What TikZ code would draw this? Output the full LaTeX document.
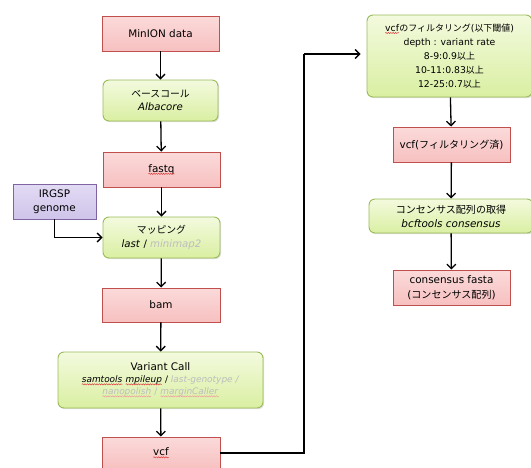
\documentclass[tikz,border=0pt]{standalone}
\usepackage{fontspec}
\setmainfont{DejaVu Sans}[Scale=1.12]
\newfontfamily\jpfont{Noto Sans CJK JP}[Scale=1.08]
\newcommand{\jp}[1]{{\jpfont #1}}
\usetikzlibrary{arrows.meta,shadows,decorations.pathmorphing}
\definecolor{redfill}{HTML}{F7C0C0}
\definecolor{redfilltop}{HTML}{FBDADA}
\definecolor{reddraw}{HTML}{C0504D}
\definecolor{grnfill}{HTML}{DAEFA2}
\definecolor{grnfilltop}{HTML}{F3FADE}
\definecolor{grndraw}{HTML}{9BBB59}
\definecolor{purfill}{HTML}{CFC4EA}
\definecolor{purfilltop}{HTML}{E2DBF4}
\definecolor{purdraw}{HTML}{8064A2}
\definecolor{lightgray}{HTML}{BDBDBD}
\definecolor{wavered}{HTML}{E04040}
\definecolor{wavepale}{HTML}{F0A0A0}
\newcommand{\spellc}[2]{\tikz[baseline=(w.base)]{\node[inner sep=0pt, outer sep=0pt, minimum width=0pt, minimum height=0pt, draw=none, align=left] (w) {#2};
  \draw[#1, line width=0.5pt, rounded corners=0pt, decorate, decoration={snake, amplitude=0.6pt, segment length=2.4pt}]
   ([yshift=-1.6pt]w.base west) -- ([yshift=-1.6pt]w.base east);}}
\newcommand{\spell}[1]{\spellc{wavered}{#1}}
\newcommand{\spellg}[1]{\spellc{wavepale}{#1}}
\tikzset{
  base/.style={align=center, inner sep=1pt,
    drop shadow={shadow xshift=1.2pt, shadow yshift=-1.2pt, opacity=0.25}},
  redbox/.style={base, font=\fontsize{9.3}{15}\selectfont, draw=reddraw, line width=0.9pt, top color=redfilltop, bottom color=redfill},
  grnbox/.style={base, font=\fontsize{9.1}{13.5}\selectfont, draw=grndraw, line width=0.9pt, rounded corners=6pt, top color=grnfilltop, bottom color=grnfill},
  purbox/.style={base, font=\fontsize{9.3}{14}\selectfont, draw=purdraw, line width=0.9pt, top color=purfilltop, bottom color=purfill},
  arr/.style={line width=1.3pt, -{Straight Barb[length=4.5pt,width=9pt,line width=1.3pt]}},
  conn/.style={line width=1.3pt}
}
\begin{document}
\begin{tikzpicture}[x=1pt,y=-1pt]
\useasboundingbox (0,0) rectangle (531,467);
% left column
\node[redbox, minimum width=117pt, minimum height=35pt] (minion) at (160.5,33.5) {MinION data};
\node[grnbox, minimum width=115pt, minimum height=41pt] (albacore) at (160.5,100.5) {\jp{ベースコール}\\\textit{Albacore}};
\node[redbox, minimum width=117pt, minimum height=35pt] (fastq) at (161.5,169.5) {\spell{fastq}};
\node[purbox, minimum width=83pt, minimum height=35pt] (irgsp) at (54.5,201.5) {IRGSP\\genome};
\node[grnbox, minimum width=117pt, minimum height=41pt] (mapping) at (161.5,237.5) {\jp{マッピング}\\\textit{last} / \textcolor{lightgray}{\textit{minimap2}}};
\node[redbox, minimum width=118pt, minimum height=34pt] (bam) at (161,305) {bam};
\node[grnbox, minimum width=205pt, minimum height=56pt, font=\fontsize{8}{12}\selectfont] (variant) at (160.5,380)
  {{\fontsize{9.3}{12}\selectfont Variant Call}\\\spell{\textit{samtools}} \spell{\textit{mpileup}} / \textcolor{lightgray}{\textit{last-genotype /}}\\\spellg{\textcolor{lightgray}{\textit{nanopolish}}} \textcolor{lightgray}{/} \spellg{\textcolor{lightgray}{\textit{marginCaller}}}};
\node[redbox, minimum width=118pt, minimum height=32pt] (vcf) at (161,453) {\spell{vcf}};
% right column
\node[grnbox, minimum width=165pt, minimum height=82pt, font=\fontsize{8.3}{14}\selectfont] (filter) at (449.5,56)
  {\spell{vcf}\jp{のフィルタリング}(\jp{以下閾値})\\depth : variant rate\\8-9:0.9\jp{以上}\\10-11:0.83\jp{以上}\\12-25:0.7\jp{以上}};
\node[redbox, minimum width=117pt, minimum height=35pt] (vcff) at (451.5,144.5) {vcf(\jp{フィルタリング済})};
\node[grnbox, minimum width=164pt, minimum height=34pt, font=\fontsize{9.3}{14}\selectfont] (cons) at (451,216) {\jp{コンセンサス配列の取得}\\\textit{bcftools consensus}};
\node[redbox, minimum width=117pt, minimum height=35pt] (fasta) at (451.5,287.5) {consensus fasta\\(\jp{コンセンサス配列})};
\coordinate (c1) at (304,453);
\coordinate (c2) at (304,54);
% connectors
\draw[arr] (minion) -- (albacore);
\draw[arr] (albacore) -- (fastq);
\draw[arr] (fastq) -- (mapping);
\draw[arr] (irgsp.south) |- (mapping.west);
\draw[arr] (mapping) -- (bam);
\draw[arr] (bam) -- (variant);
\draw[arr] (variant) -- (vcf);
\draw[conn] (vcf.east) -- (c1) -- (c2);
\draw[arr, shorten >=6pt] (c2) -- (c2 -| filter.west);
\draw[arr] (filter) -- (vcff);
\draw[arr] (vcff) -- (cons);
\draw[arr] (cons) -- (fasta);
\end{tikzpicture}
\end{document}
